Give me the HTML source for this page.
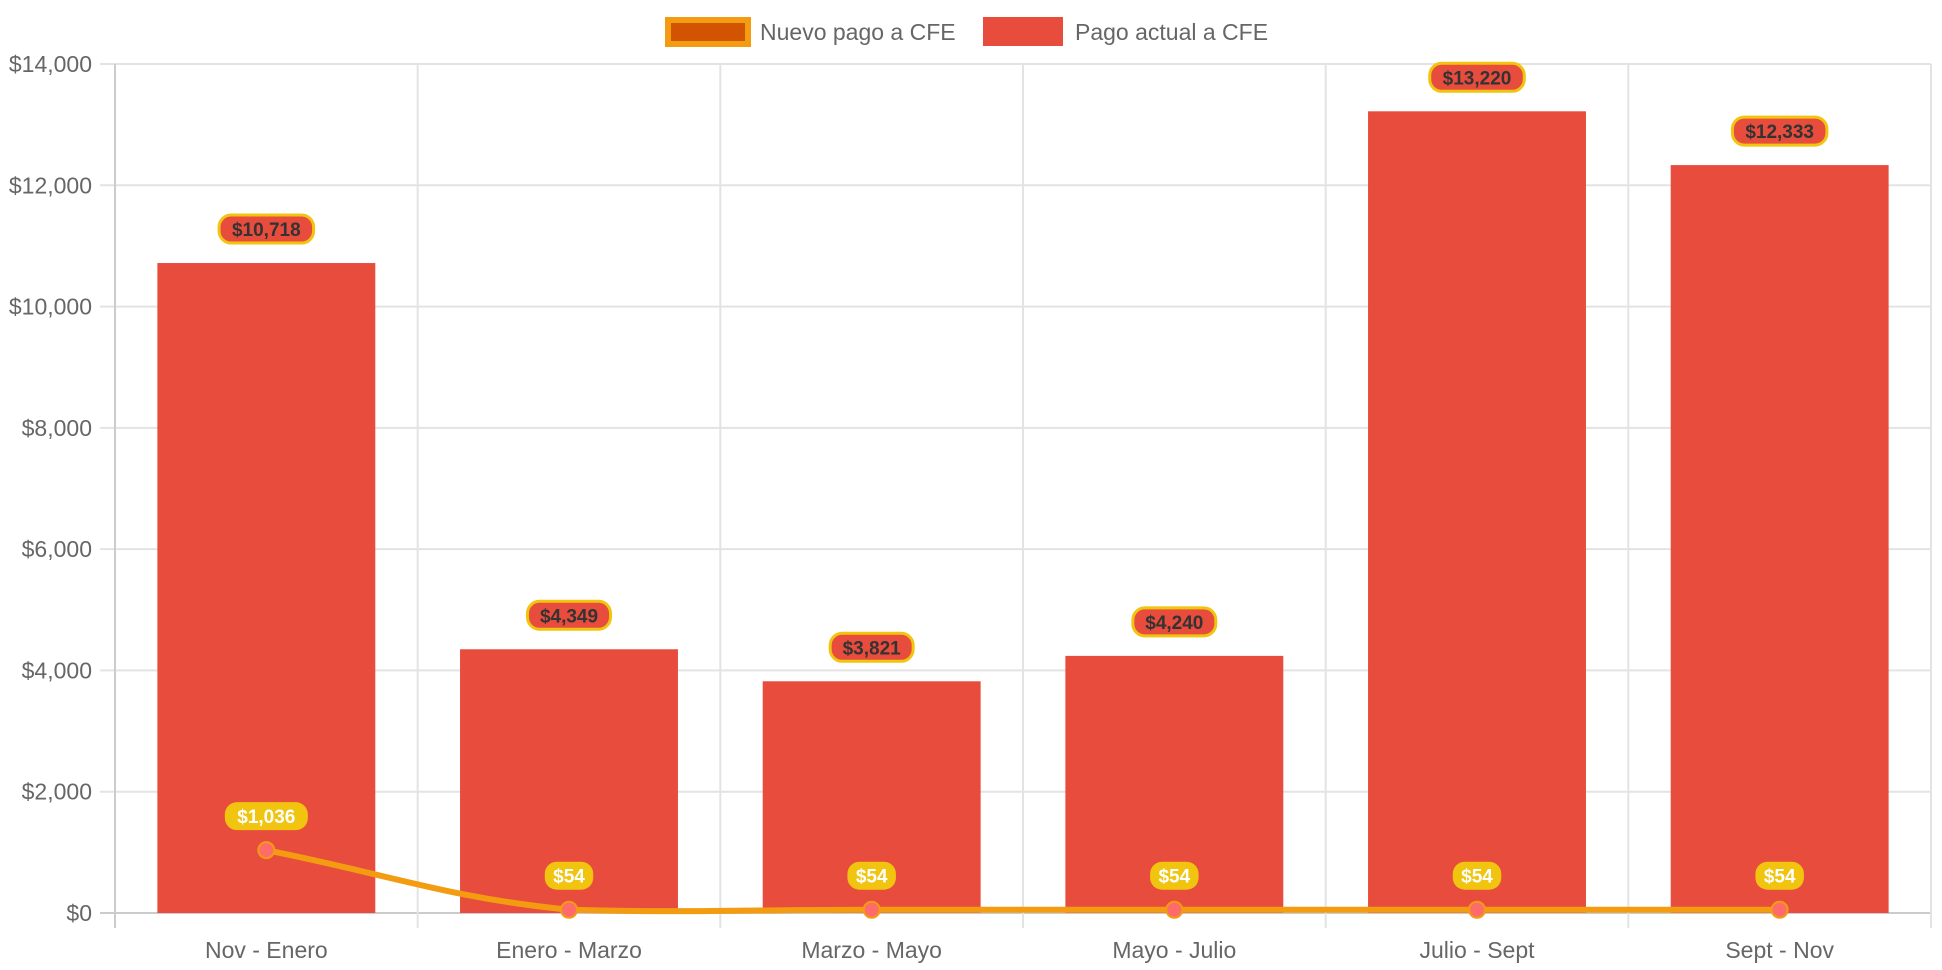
<!DOCTYPE html>
<html><head><meta charset="utf-8">
<style>
html,body{margin:0;padding:0;background:#fff;}
svg{display:block;font-family:"Liberation Sans",Arial,sans-serif;}
</style></head>
<body>
<svg id="chart" width="1942" height="970" viewBox="0 0 1942 970" xmlns="http://www.w3.org/2000/svg">
  <g id="legend">
    <g>
      <rect x="668" y="20" width="80" height="24" fill="#d35400" stroke="#f39c12" stroke-width="6"/>
      <text x="760" y="40" font-size="23" fill="#666">Nuevo pago a CFE</text>
    </g>
    <g>
      <rect x="983" y="17" width="80" height="29" fill="#e74c3c"/>
      <text x="1075" y="40" font-size="23" fill="#666">Pago actual a CFE</text>
    </g>
  </g>
  <g id="grid"></g>
  <g id="bars"></g>
  <g id="line"></g>
  <g id="labels"></g>
</svg>
<script>
const categories = ["Nov - Enero","Enero - Marzo","Marzo - Mayo","Mayo - Julio","Julio - Sept","Sept - Nov"];
const pagoActual = [10718, 4349, 3821, 4240, 13220, 12333];
const nuevoPago = [1036, 54, 54, 54, 54, 54];
const yTicks = [0, 2000, 4000, 6000, 8000, 10000, 12000, 14000];
const yMax = 14000;

const NS = "http://www.w3.org/2000/svg";
const L = 115, R = 1931, T = 64, B = 913;
const band = (R - L) / categories.length;
function xScale(i){ return L + band * (i + 0.5); }
function yScale(v){ return B - (v / yMax) * (B - T); }
function fmt(v){ return "$" + v.toLocaleString("en-US"); }
function mk(tag, attrs, parent){
  const e = document.createElementNS(NS, tag);
  for (const k in attrs) e.setAttribute(k, attrs[k]);
  parent.appendChild(e);
  return e;
}
const grid = document.getElementById("grid");
const bars = document.getElementById("bars");
const line = document.getElementById("line");
const labels = document.getElementById("labels");

yTicks.forEach(t => {
  const y = yScale(t);
  const gl = mk("line", {x1:100, x2:R, y1:y, y2:y, stroke: t===0 ? "#ccc" : "#e3e3e3", "stroke-width":2}, grid);
  
  
  const tx = mk("text", {x:92, y:y+8, "font-size":23, fill:"#666", "text-anchor":"end"}, grid);
  tx.textContent = fmt(t);
  
  
});
for (let i = 0; i <= categories.length; i++) {
  const x = L + band * i;
  const vl = mk("line", {x1:x, x2:x, y1:T, y2:928, stroke: i===0 ? "#ccc" : "#e3e3e3", "stroke-width":2}, grid);
  
  
}
categories.forEach((c, i) => {
  const tx = mk("text", {x:xScale(i), y:958, "font-size":23, fill:"#666", "text-anchor":"middle"}, grid);
  tx.textContent = c;
  
  
});

const bw = band * 0.72;
pagoActual.forEach((v, i) => {
  const y = yScale(v);
  const r = mk("rect", {x:xScale(i)-bw/2, y:y, width:bw, height:B-y, fill:"#e74c3c"}, bars);
  
  
});

// spline path (Chart.js-like tension)
const pts = nuevoPago.map((v, i) => [xScale(i), yScale(v)]);
const tension = 0.4;
let d = "M" + pts[0][0] + "," + pts[0][1];
const cps = pts.map((p, i) => {
  const prev = pts[i-1] || p, next = pts[i+1] || p;
  const d01 = Math.hypot(p[0]-prev[0], p[1]-prev[1]);
  const d12 = Math.hypot(next[0]-p[0], next[1]-p[1]);
  let fa = d01/(d01+d12) || 0, fb = d12/(d01+d12) || 0;
  fa *= tension; fb *= tension;
  return {
    prev:[p[0]-fa*(next[0]-prev[0]), Math.min(B, p[1]-fa*(next[1]-prev[1]))],
    next:[p[0]+fb*(next[0]-prev[0]), Math.min(B, p[1]+fb*(next[1]-prev[1]))]
  };
});
for (let i = 1; i < pts.length; i++) {
  d += " C" + cps[i-1].next.join(",") + " " + cps[i].prev.join(",") + " " + pts[i].join(",");
}
const path = mk("path", {d:d, fill:"none", stroke:"#f39c12", "stroke-width":6, "stroke-linejoin":"round"}, line);


pts.forEach(p => {
  const c = mk("circle", {cx:p[0], cy:p[1], r:8, fill:"#ff6b6b", stroke:"#f39c12", "stroke-width":2}, line);
  
  
});

function pill(cx, cy, text, bg, border, color, name){
  const g = mk("g", {}, labels);
  
  
  const w = text.length * 11.5 + 14;
  mk("rect", {x:cx-w/2, y:cy-14, width:w, height:28, rx:12, fill:bg, stroke:border, "stroke-width":border==="none"?0:3}, g);
  const t = mk("text", {x:cx, y:cy+7, "font-size":19, "font-weight":"bold", fill:color, "text-anchor":"middle"}, g);
  t.textContent = text;
}
pagoActual.forEach((v, i) => pill(xScale(i), yScale(v)-34, fmt(v), "#e74c3c", "#f1c40f", "#333", "bar-value-label"));
nuevoPago.forEach((v, i) => pill(xScale(i), yScale(v)-34, fmt(v), "#f1c40f", "none", "#fff", "line-value-label"));
</script>
</body></html>
